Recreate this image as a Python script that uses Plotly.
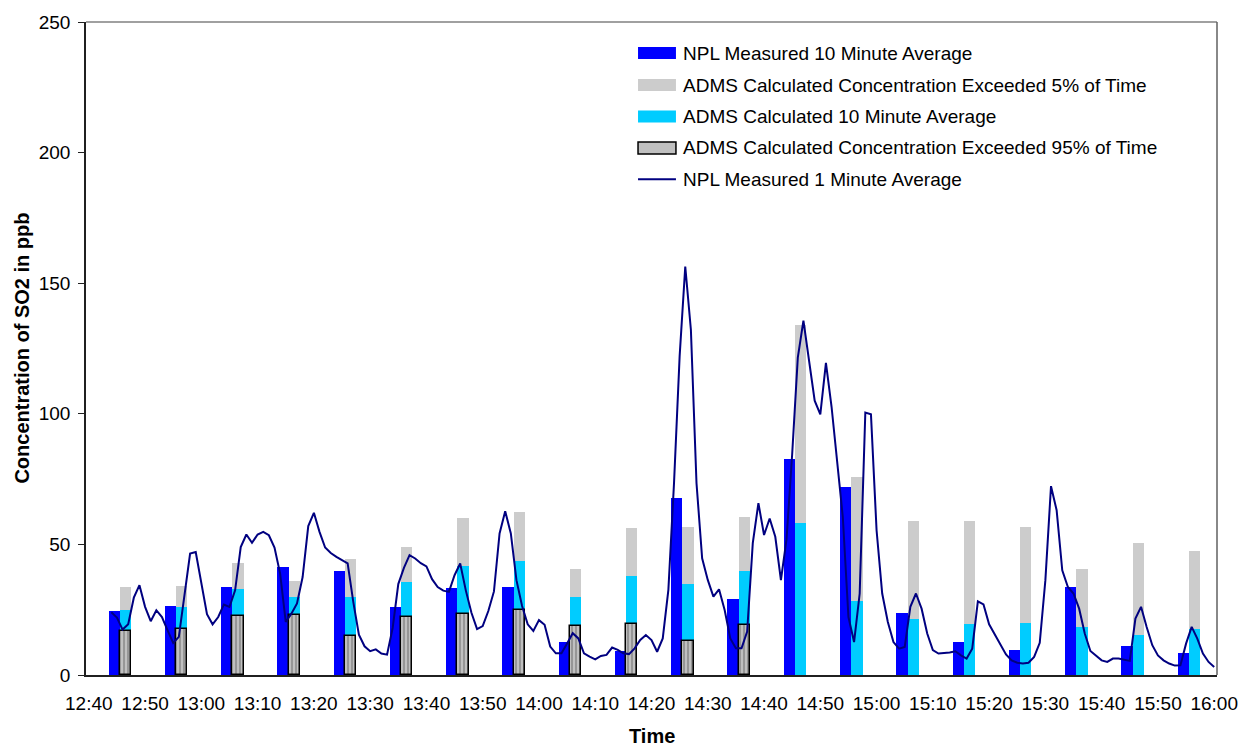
import pandas as pd
import plotly.graph_objects as go

DAY = "2004-01-01 "

# ---- 10-minute averaging periods (mid-period minute) ----
period_times = ["12:45", "12:55", "13:05", "13:15", "13:25", "13:35", "13:45", "13:55",
                "14:05", "14:15", "14:25", "14:35", "14:45", "14:55", "15:05", "15:15",
                "15:25", "15:35", "15:45", "15:55"]
npl_10min = [24.4, 26.3, 33.6, 41.3, 39.7, 25.9, 33.2, 33.6, 12.5, 9.1,
             67.7, 29.0, 82.7, 71.9, 23.6, 12.5, 9.5, 33.6, 11.0, 8.3]
adms_5pct = [33.6, 34.0, 42.8, 35.9, 44.3, 48.9, 60.0, 62.3, 40.5, 56.2,
             56.6, 60.4, 134.0, 75.7, 58.9, 59.0, 56.6, 40.5, 50.5, 47.4]
adms_10min = [24.9, 25.9, 32.8, 29.8, 29.8, 35.5, 41.6, 43.6, 29.8, 37.8,
              34.8, 39.7, 58.1, 28.3, 21.3, 19.4, 19.8, 18.3, 15.2, 17.5]
adms_95pct = [16.9, 17.6, 22.7, 23.0, 14.8, 22.1, 23.3, 25.0, 18.7, 19.6,
              12.9, 19.0, None, None, None, None, None, None, None, None]

# ---- NPL 1-minute averages, one value per minute from 12:44 to 16:00 ----
line_start = "12:44"
npl_1min = [
    24.0, 22.0, 17.4, 19.4, 29.6, 34.4, 26.1, 20.6, 24.8, 22.2,    # 12:44
    17.1, 12.3, 14.6, 29.9, 46.5, 47.1, 35.6, 23.3, 19.4, 22.2,    # 12:54
    27.0, 26.1, 32.4, 49.0, 53.8, 50.6, 53.8, 54.8, 53.5, 48.8,    # 13:04
    38.8, 20.3, 23.5, 27.4, 37.5, 57.0, 62.1, 54.8, 48.8, 46.7,    # 13:14
    45.2, 43.9, 42.7, 28.0, 15.4, 11.0, 9.1, 9.8, 8.2, 7.8,        # 13:24
    18.0, 34.8, 41.0, 45.9, 44.6, 42.8, 41.6, 36.7, 33.7, 32.3,    # 13:34
    31.8, 38.2, 42.7, 32.4, 23.8, 17.6, 18.7, 24.5, 32.0, 54.2,    # 13:44
    62.7, 54.2, 36.3, 26.4, 19.4, 16.9, 21.0, 19.2, 10.9, 8.3,     # 13:54
    8.3, 12.1, 16.0, 14.0, 8.3, 7.0, 6.0, 7.3, 7.7, 10.5,          # 14:04
    9.6, 8.3, 8.0, 10.2, 13.4, 15.3, 13.4, 8.9, 14.0, 32.6,        # 14:14
    73.4, 122.0, 156.4, 132.2, 73.4, 44.7, 36.4, 30.0, 32.8, 24.9, # 14:24
    14.0, 10.2, 10.2, 16.6, 50.5, 65.8, 53.6, 59.9, 52.9, 36.3,    # 14:34
    52.0, 84.5, 121.5, 135.7, 121.1, 105.0, 99.8, 119.5, 102.7, 81.0,  # 14:44
    60.5, 22.2, 12.6, 31.2, 100.5, 99.8, 55.4, 31.2, 20.3, 12.6,   # 14:54
    10.1, 10.7, 26.1, 31.2, 25.4, 15.9, 9.5, 8.2, 8.4, 8.6,        # 15:04
    9.1, 7.5, 6.3, 10.1, 28.2, 27.0, 19.4, 15.6, 11.8, 7.9,        # 15:14
    5.6, 4.7, 4.4, 4.7, 6.9, 12.3, 36.3, 72.3, 63.1, 40.1,         # 15:24
    33.7, 31.2, 25.4, 15.9, 9.2, 7.3, 5.6, 5.0, 6.3, 6.3,          # 15:34
    5.9, 5.4, 21.6, 26.1, 18.4, 11.4, 7.5, 5.6, 4.4, 3.6,          # 15:44
    3.7, 12.0, 18.4, 13.9, 8.2, 5.0, 3.1,                          # 15:54
]

tick_labels = ["12:40", "12:50", "13:00", "13:10", "13:20", "13:30", "13:40",
               "13:50", "14:00", "14:10", "14:20", "14:30", "14:40", "14:50",
               "15:00", "15:10", "15:20", "15:30", "15:40", "15:50", "16:00"]
y_ticks = [0, 50, 100, 150, 200, 250]

legend_names = ["NPL Measured 10 Minute Average",
                "ADMS Calculated Concentration Exceeded 5% of Time",
                "ADMS Calculated 10 Minute Average",
                "ADMS Calculated Concentration Exceeded 95% of Time",
                "NPL Measured 1 Minute Average"]

# ---- styling ----
FONT = "Liberation Sans, Arial, sans-serif"
FS = 19
FS_TITLE = 20
C_NPL10 = "#0000FF"
C_5PCT = "#CCCCCC"
C_10MIN = "#00CCFF"
C_95PCT = "#C0C0C0"
C_LINE = "#000080"

W, H = 1250, 747
ML, MR, MT, MB = 86, 31, 22, 72
PW, PH = W - ML - MR, H - MT - MB

MIN_MS = 60_000
bar_x = pd.to_datetime([DAY + t for t in period_times])
line_x = pd.date_range(pd.Timestamp(DAY + line_start), periods=len(npl_1min), freq="1min")
label_x = pd.to_datetime([DAY + t for t in tick_labels])
tickmark_x = label_x - pd.Timedelta(seconds=30)
x_range = [pd.Timestamp(DAY + "12:39:30"), pd.Timestamp(DAY + "16:00:30")]

fig = go.Figure()

# measured 10-minute bars sit left of the period centre
fig.add_trace(go.Bar(x=bar_x, y=npl_10min, name=legend_names[0],
                     marker=dict(color=C_NPL10, line=dict(width=0)),
                     offset=-1.5 * MIN_MS, width=2 * MIN_MS))
# modelled bars share the slot to the right
fig.add_trace(go.Bar(x=bar_x, y=adms_5pct, name=legend_names[1],
                     marker=dict(color=C_5PCT, line=dict(width=0)),
                     offset=0.5 * MIN_MS, width=2 * MIN_MS))
fig.add_trace(go.Bar(x=bar_x, y=adms_10min, name=legend_names[2],
                     marker=dict(color=C_10MIN, line=dict(width=0)),
                     offset=0.5 * MIN_MS, width=2 * MIN_MS))
fig.add_trace(go.Bar(x=bar_x, y=adms_95pct, name=legend_names[3],
                     marker=dict(color=C_95PCT, line=dict(color="black", width=1.5),
                                 pattern=dict(shape="|", size=4, solidity=0.22,
                                              fgcolor="black", bgcolor=C_95PCT)),
                     offset=0.5 * MIN_MS, width=2 * MIN_MS))
fig.add_trace(go.Scatter(x=line_x, y=npl_1min, name=legend_names[4], mode="lines",
                         line=dict(color=C_LINE, width=2)))

fig.update_traces(showlegend=False)


def px_x(p):
    return (p - ML) / PW


def px_y(p):
    return (H - MB - p) / PH


shapes = [
    # plot-area frame (top and right edges)
    dict(type="line", xref="paper", yref="paper", x0=0, x1=1, y0=1, y1=1,
         line=dict(color="#808080", width=1.5)),
    dict(type="line", xref="paper", yref="paper", x0=1, x1=1, y0=0, y1=1,
         line=dict(color="#606060", width=1.5)),
]
annotations = []

# legend block
leg_rows = [53, 85, 116.5, 148, 179.3]
leg_x0, leg_x1, leg_tx = 639, 677, 683
leg_fill = [C_NPL10, C_5PCT, C_10MIN, C_95PCT]
for i, name in enumerate(legend_names):
    yc = leg_rows[i]
    if i < 4:
        shapes.append(dict(type="rect", xref="paper", yref="paper",
                           x0=px_x(leg_x0), x1=px_x(leg_x1),
                           y0=px_y(yc + 6), y1=px_y(yc - 6),
                           fillcolor=leg_fill[i],
                           line=dict(color="black" if i == 3 else leg_fill[i],
                                     width=1.5 if i == 3 else 0)))
    else:
        shapes.append(dict(type="line", xref="paper", yref="paper",
                           x0=px_x(leg_x0), x1=px_x(leg_x1),
                           y0=px_y(yc), y1=px_y(yc),
                           line=dict(color=C_LINE, width=2)))
    annotations.append(dict(text=name, xref="paper", yref="paper",
                            x=px_x(leg_tx), y=px_y(yc), xanchor="left", yanchor="middle",
                            showarrow=False, borderpad=0,
                            font=dict(family=FONT, size=FS, color="black")))

# axis titles
annotations.append(dict(text="<b>Time</b>", xref="paper", yref="paper",
                        x=0.5, y=px_y(748), xanchor="center", yanchor="bottom",
                        showarrow=False, borderpad=0,
                        font=dict(family=FONT, size=FS_TITLE, color="black")))
annotations.append(dict(text="<b>Concentration of SO2 in ppb</b>", xref="paper", yref="paper",
                        x=px_x(21), y=0.5, xanchor="center", yanchor="middle",
                        textangle=-90, showarrow=False, borderpad=0,
                        font=dict(family=FONT, size=FS_TITLE, color="black")))

fig.update_layout(
    width=W, height=H,
    margin=dict(l=ML, r=MR, t=MT, b=MB, pad=0),
    paper_bgcolor="white", plot_bgcolor="white",
    barmode="overlay", bargap=0,
    font=dict(family=FONT, size=FS, color="black"),
    showlegend=False,
    shapes=shapes, annotations=annotations,
    xaxis=dict(type="date", range=x_range, tickmode="array",
               tickvals=label_x, ticktext=tick_labels, ticks="",
               showline=True, linecolor="#202020", linewidth=1.5,
               showgrid=False, zeroline=False, ticklabelstandoff=10,
               tickfont=dict(family=FONT, size=FS, color="black")),
    xaxis2=dict(type="date", range=x_range, overlaying="x", anchor="y", side="bottom",
                tickmode="array", tickvals=tickmark_x, ticks="outside", ticklen=5,
                tickcolor="#202020", tickwidth=1.2, showticklabels=False,
                showline=False, showgrid=False, zeroline=False),
    xaxis3=dict(type="date", range=x_range, overlaying="x", anchor="y", side="bottom",
                tickmode="array", tickvals=tickmark_x, ticks="inside", ticklen=5,
                tickcolor="#202020", tickwidth=1.2, showticklabels=False,
                showline=False, showgrid=False, zeroline=False),
    yaxis=dict(range=[0, 250], tickmode="array", tickvals=y_ticks,
               ticks="outside", ticklen=6, tickcolor="#202020", tickwidth=1.2,
               showline=True, linecolor="#202020", linewidth=1.5,
               showgrid=False, zeroline=False, ticklabelstandoff=4,
               tickfont=dict(family=FONT, size=FS, color="black")),
    yaxis2=dict(range=[0, 250], overlaying="y", anchor="x", side="left",
                tickmode="array", tickvals=y_ticks, ticks="inside", ticklen=5,
                tickcolor="#202020", tickwidth=1.2, showticklabels=False,
                showline=False, showgrid=False, zeroline=False),
)

fig.write_html("out.html")
